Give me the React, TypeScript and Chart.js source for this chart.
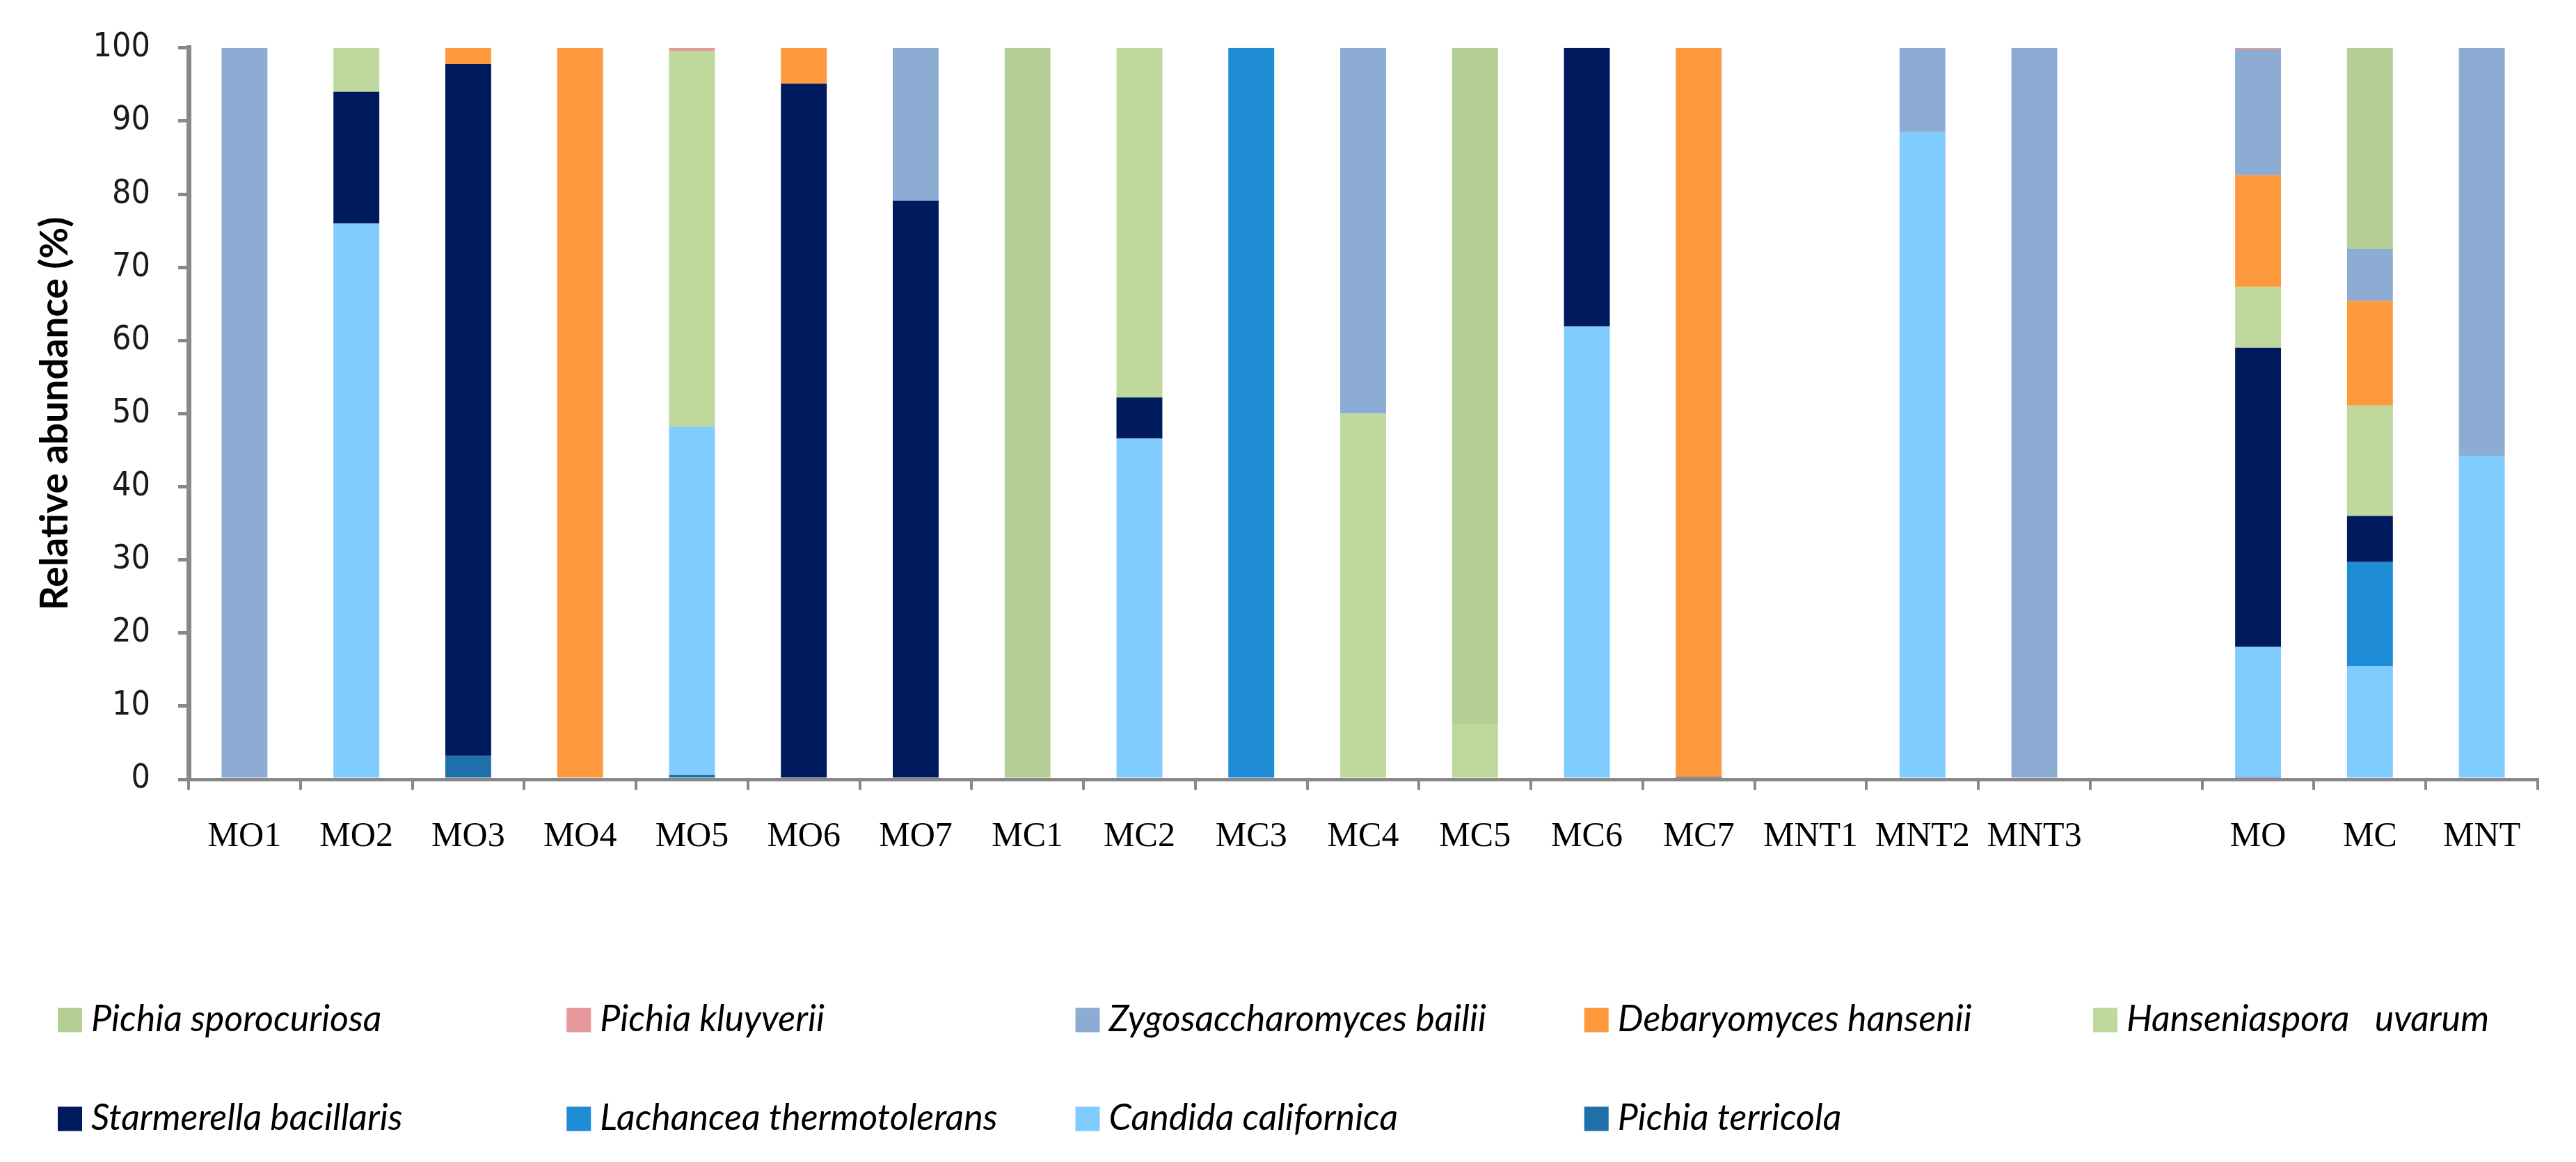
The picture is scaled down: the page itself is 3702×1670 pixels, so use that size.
import React, { useEffect, useRef } from "react";
import { Chart, registerables } from "chart.js";

Chart.register(...registerables);

const categories = [
  "MO1", "MO2", "MO3", "MO4", "MO5", "MO6", "MO7",
  "MC1", "MC2", "MC3", "MC4", "MC5", "MC6", "MC7",
  "MNT1", "MNT2", "MNT3", "", "MO", "MC", "MNT",
];

// stacked bottom -> top
const pichiaTerricola = [0, 0, 3.2, 0, 0.6, 0, 0, 0, 0, 0, 0, 0, 0, 0, 0, 0, 0, 0, 0.3, 0, 0];
const candidaCalifornica = [0, 76.0, 0, 0, 47.6, 0, 0, 0, 46.6, 0, 0, 0, 61.9, 0, 0, 88.5, 0, 0, 17.8, 15.5, 44.2];
const lachanceaThermotolerans = [0, 0, 0, 0, 0, 0, 0, 0, 0, 100, 0, 0, 0, 0, 0, 0, 0, 0, 0, 14.2, 0];
const starmerellaBacillaris = [0, 18.0, 94.6, 0, 0, 95.1, 79.1, 0, 5.6, 0, 0, 0, 38.1, 0.3, 0, 0, 0, 0, 40.9, 6.3, 0];
const hanseniasporaUvarum = [0, 6.0, 0, 0, 51.4, 0, 0, 0, 47.8, 0, 50, 7.6, 0, 0, 0, 0, 0, 0, 8.3, 15.1, 0];
const debaryomycesHansenii = [0, 0, 2.2, 100, 0, 4.9, 0, 0, 0, 0, 0, 0, 0, 99.7, 0, 0, 0, 0, 15.3, 14.3, 0];
const zygosaccharomycesBailii = [100, 0, 0, 0, 0, 0, 20.9, 0, 0, 0, 50, 0, 0, 0, 0, 11.5, 100, 0, 17.2, 7.1, 55.8];
const pichiaKluyverii = [0, 0, 0, 0, 0.4, 0, 0, 0, 0, 0, 0, 0, 0, 0, 0, 0, 0, 0, 0.2, 0, 0];
const pichiaSporocuriosa = [0, 0, 0, 0, 0, 0, 0, 100, 0, 0, 0, 92.4, 0, 0, 0, 0, 0, 0, 0, 27.5, 0];

const seriesNames = [
  "Pichia terricola",
  "Candida californica",
  "Lachancea thermotolerans",
  "Starmerella bacillaris",
  "Hanseniaspora   uvarum",
  "Debaryomyces hansenii",
  "Zygosaccharomyces bailii",
  "Pichia kluyverii",
  "Pichia sporocuriosa",
];
const seriesValues = [
  pichiaTerricola,
  candidaCalifornica,
  lachanceaThermotolerans,
  starmerellaBacillaris,
  hanseniasporaUvarum,
  debaryomycesHansenii,
  zygosaccharomycesBailii,
  pichiaKluyverii,
  pichiaSporocuriosa,
];
const seriesColors = [
  "#1F70A8",
  "#80CCFF",
  "#1F8DD6",
  "#001A5E",
  "#BFD89C",
  "#FF993D",
  "#8DACD3",
  "#E6999A",
  "#B3CF96",
];

const yTicks = [0, 10, 20, 30, 40, 50, 60, 70, 80, 90, 100];

const AXIS_GREY = "#888888";

const gridLegendPlugin = {
  id: "gridLegend",
  afterDraw(chart: any) {
    const ctx = chart.ctx;
    const items = chart.data.datasets
      .map((ds: any) => ({ label: ds.label, color: ds.backgroundColor }))
      .reverse();
    const colStart = 83;
    const colWidth = 731.25;
    const rowCenter = 1466;
    const rowGap = 142;
    const box = 35;
    ctx.save();
    ctx.font = "italic 52px Lato, 'Open Sans', sans-serif";
    ctx.textAlign = "left";
    ctx.textBaseline = "alphabetic";
    items.forEach((it: any, i: number) => {
      const col = i % 5;
      const row = Math.floor(i / 5);
      const x = colStart + col * colWidth;
      const yc = rowCenter + row * rowGap;
      ctx.fillStyle = it.color;
      ctx.fillRect(x, yc - box / 2, box, box);
      ctx.fillStyle = "#000000";
      ctx.fillText(it.label, x + box + 13, yc + 16);
    });
    ctx.restore();
  },
};

export default function App() {
  const canvasRef = useRef<HTMLCanvasElement | null>(null);

  useEffect(() => {
    document.body.style.margin = "0";
    const canvas = canvasRef.current;
    if (!canvas) return;
    const chart = new Chart(canvas, {
      type: "bar",
      data: {
        labels: categories,
        datasets: seriesNames.map((name, i) => ({
          label: name,
          data: seriesValues[i],
          backgroundColor: seriesColors[i],
          borderWidth: 0,
          barPercentage: 0.41,
          categoryPercentage: 1,
        })),
      },
      options: {
        animation: false,
        responsive: true,
        maintainAspectRatio: false,
        layout: { padding: { left: 0, top: 62, right: 55, bottom: 430 } },
        plugins: {
          legend: { display: false },
          tooltip: { enabled: false },
          title: { display: false },
        },
        scales: {
          x: {
            stacked: true,
            offset: true,
            grid: {
              display: true,
              offset: true,
              drawOnChartArea: false,
              drawTicks: true,
              tickLength: 15,
              color: AXIS_GREY,
              lineWidth: 4,
            },
            border: { display: true, color: AXIS_GREY, width: 5 },
            ticks: {
              color: "#000000",
              padding: 38,
              maxRotation: 0,
              minRotation: 0,
              autoSkip: false,
              font: { family: "'Liberation Serif', 'Times New Roman', serif", size: 50 },
            },
            afterFit: (scale: any) => {
              scale.height = 120;
            },
          },
          y: {
            stacked: true,
            min: 0,
            max: 100,
            afterBuildTicks: (scale: any) => {
              scale.ticks = yTicks.map((v) => ({ value: v }));
            },
            grid: {
              display: true,
              drawOnChartArea: false,
              drawTicks: true,
              tickLength: 15,
              color: AXIS_GREY,
              lineWidth: 5,
            },
            border: { display: true, color: AXIS_GREY, width: 7 },
            ticks: {
              color: "#1a1a1a",
              padding: 40,
              font: { family: "'DejaVu Sans Condensed', 'DejaVu Sans', sans-serif", size: 48 },
            },
            title: {
              display: true,
              text: "Relative abundance (%)",
              color: "#000000",
              font: { family: "Lato, 'Liberation Sans', sans-serif", size: 55, weight: "bold" },
              padding: { top: 46, bottom: 0 },
            },
            afterFit: (scale: any) => {
              scale.width = 271;
            },
          },
        },
      },
      plugins: [gridLegendPlugin],
    });
    return () => chart.destroy();
  }, []);

  return (
    <div style={{ position: "relative", width: "3702px", height: "1670px", background: "#ffffff" }}>
      <canvas ref={canvasRef} />
    </div>
  );
}
